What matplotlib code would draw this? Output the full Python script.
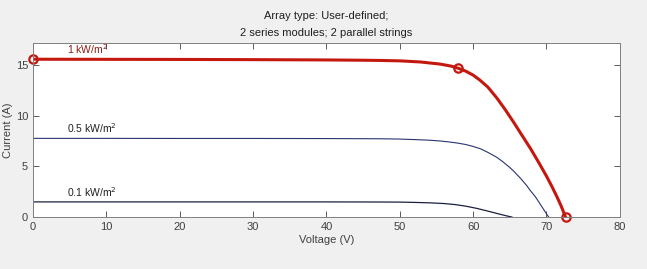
import matplotlib
matplotlib.use("Agg")
import matplotlib.pyplot as plt

# 1 kW/m^2 curve
v_1000 = [0, 10, 20, 30, 40, 45, 47.3, 50, 52.8, 55.5, 57, 58, 59, 60, 60.9, 62, 63.2,
          64.3, 65.5, 66.6, 67.8, 68.9, 70, 70.7, 71.4, 72, 72.6]
i_1000 = [15.6, 15.59, 15.58, 15.56, 15.53, 15.5, 15.48, 15.44, 15.33, 15.12, 14.92, 14.7,
          14.42, 14.03, 13.55, 12.85, 11.8, 10.7, 9.4, 8.15, 6.8, 5.45, 4.05, 3.08, 2.05, 1.1, 0.0]
# 0.5 kW/m^2 curve
v_500 = [0, 10, 20, 30, 40, 47.3, 50, 52, 54, 55.5, 56.8, 58, 59, 60, 61, 62, 63.2, 64,
         65, 65.5, 66.5, 67.3, 67.8, 68.5, 69.35, 69.8, 70.3]
i_500 = [7.78, 7.78, 7.77, 7.77, 7.76, 7.74, 7.71, 7.66, 7.6, 7.52, 7.42, 7.3, 7.17, 6.98,
         6.75, 6.4, 5.92, 5.5, 4.9, 4.56, 3.8, 3.12, 2.62, 2.0, 1.05, 0.55, 0.0]
# 0.1 kW/m^2 curve
v_100 = [0, 10, 20, 30, 40, 47.3, 50, 52, 54, 56, 57.5, 59, 60.5, 61.4, 62.5, 63.5, 64.5, 65.3]
i_100 = [1.5, 1.5, 1.5, 1.5, 1.5, 1.49, 1.48, 1.45, 1.41, 1.34, 1.24, 1.08, 0.86, 0.7, 0.5,
         0.31, 0.13, 0.0]
# marked points on the 1 kW/m^2 curve: Isc, MPP, Voc
mark_v = [0, 58, 72.6]
mark_i = [15.6, 14.7, 0.0]

labels = ["1 kW/m$^2$", "0.5 kW/m$^2$", "0.1 kW/m$^2$"]
label_v = [4.6, 4.6, 4.6]
label_i = [15.9, 8.1, 1.8]

xticks = [0, 10, 20, 30, 40, 50, 60, 70, 80]
yticks = [0, 5, 10, 15]

plt.rcParams['font.family'] = ['Liberation Sans', 'DejaVu Sans']

fig = plt.figure(figsize=(6.47, 2.69), dpi=100, facecolor='#f0f0f0')
ax = fig.add_axes([0.051, 0.193, 0.907, 0.647])
ax.set_facecolor('white')

red = '#c4180f'
ax.plot(v_500, i_500, color='#2a3470', lw=0.8)
ax.plot(v_100, i_100, color='#1c2040', lw=0.9)
ax.plot(v_1000, i_1000, color=red, lw=2.2)
ax.plot(mark_v, mark_i, linestyle='none', marker='o', markersize=6,
        markerfacecolor='none', markeredgecolor=red, markeredgewidth=1.6, clip_on=False)

colors = ['#8b1a14', '#202020', '#202020']
for t, x, y, c in zip(labels, label_v, label_i, colors):
    ax.text(x, y, t, fontsize=7.5, color=c, va='bottom', ha='left')

ax.set_xlim(0, 80)
ax.set_ylim(0, 17.2)
ax.set_xticks(xticks)
ax.set_yticks(yticks)
ax.tick_params(direction='in', top=True, right=True, labelsize=8,
               colors='#404040', length=4, width=0.6)
for s in ax.spines.values():
    s.set_color('#808080')
    s.set_linewidth(0.7)

ax.set_xlabel('Voltage (V)', fontsize=8, color='#404040', labelpad=2)
ax.set_ylabel('Current (A)', fontsize=8, color='#404040', labelpad=2)
ax.set_title('Array type: User-defined;\n2 series modules; 2 parallel strings',
             fontsize=8, color='#202020', pad=5, linespacing=1.9)

fig.savefig('out.png', dpi=100, facecolor=fig.get_facecolor())
